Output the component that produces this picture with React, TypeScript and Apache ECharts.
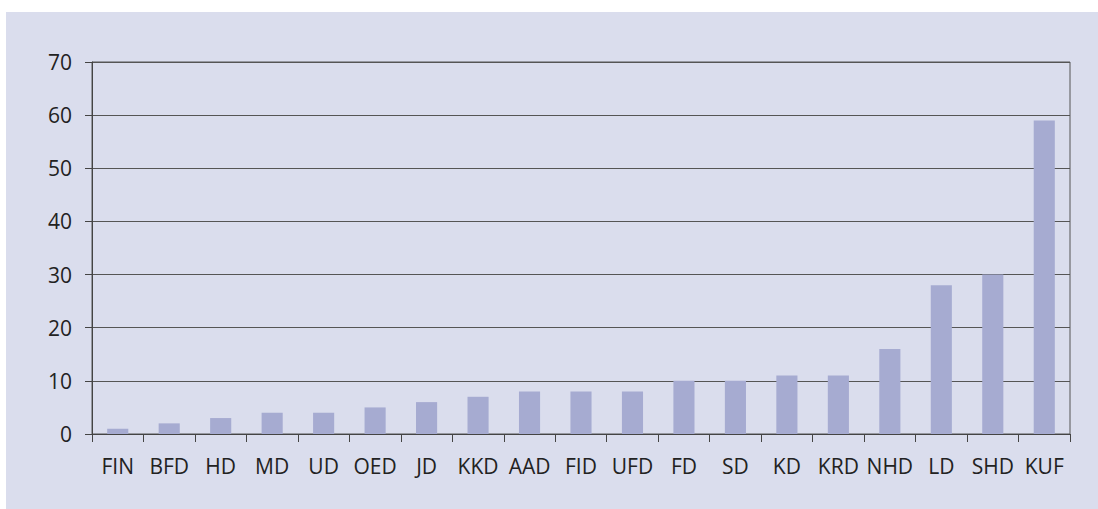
import React, { useEffect, useRef } from "react";
import * as echarts from "echarts";

const categories = ["FIN", "BFD", "HD", "MD", "UD", "OED", "JD", "KKD", "AAD", "FID", "UFD", "FD", "SD", "KD", "KRD", "NHD", "LD", "SHD", "KUF"];
const values = [1, 2, 3, 4, 4, 5, 6, 7, 8, 8, 8, 10, 10, 11, 11, 16, 28, 30, 59];
const yTicks = { min: 0, max: 70, interval: 10 };

export default function App() {
  const ref = useRef<HTMLDivElement>(null);
  useEffect(() => {
    if (!ref.current) return;
    const chart = echarts.init(ref.current, undefined, { renderer: "svg" });
    const font = "'Open Sans', 'Noto Sans', sans-serif";
    chart.setOption({
      animation: false,
      backgroundColor: "#ffffff",
      graphic: [
        {
          type: "rect",
          z: -10,
          silent: true,
          shape: { x: 6, y: 12, width: 1092, height: 497 },
          style: { fill: "#dadded" },
        },
      ],
      grid: {
        left: 92,
        right: 28,
        top: 62,
        bottom: 75,
        show: true,
        borderColor: "#555",
        borderWidth: 1,
        backgroundColor: "transparent",
      },
      xAxis: {
        type: "category",
        data: categories,
        axisLine: { lineStyle: { color: "#444", width: 1 } },
        axisTick: { show: true, length: 8, alignWithLabel: false, lineStyle: { color: "#444" } },
        axisLabel: { color: "#222", fontFamily: font, fontSize: 21, margin: 21, interval: 0 },
      },
      yAxis: {
        type: "value",
        min: yTicks.min,
        max: yTicks.max,
        interval: yTicks.interval,
        axisLine: { show: true, lineStyle: { color: "#444", width: 1 } },
        axisTick: { show: true, length: 7, lineStyle: { color: "#444" } },
        axisLabel: { color: "#222", fontFamily: font, fontSize: 21, margin: 20 },
        splitLine: { show: true, lineStyle: { color: "#555", width: 1 } },
      },
      series: [
        {
          type: "bar",
          data: values,
          barWidth: "41%",
          itemStyle: { color: "#a6abd1" },
        },
      ],
    });
    return () => chart.dispose();
  }, []);
  return (
    <div
      ref={ref}
      style={{ position: "fixed", left: 0, top: 0, width: 1098, height: 509 }}
    />
  );
}
